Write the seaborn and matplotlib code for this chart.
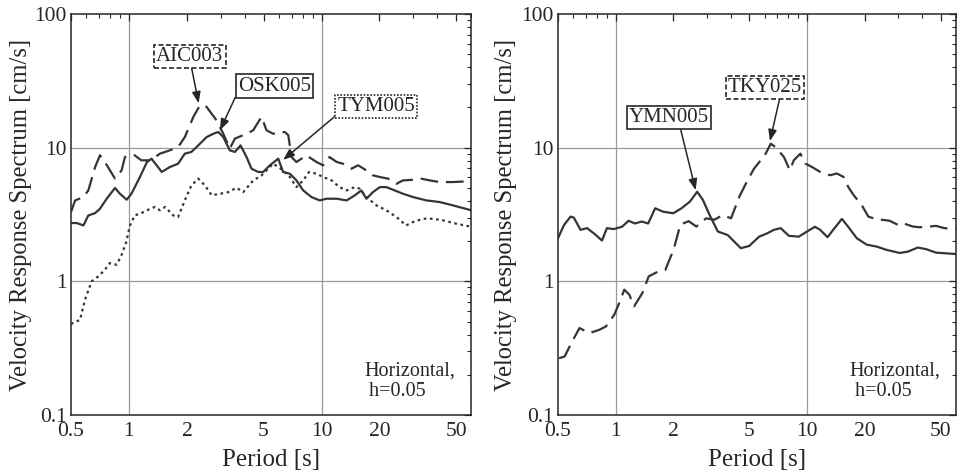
import numpy as np
import pandas as pd
import matplotlib
matplotlib.use("Agg")
import matplotlib.pyplot as plt
from matplotlib.ticker import FixedLocator, FixedFormatter, NullFormatter
import seaborn as sns

# ---- spectra: period [s] and velocity response [cm/s] ----
aic003_T = [0.50, 0.525, 0.58, 0.615, 0.667, 0.707, 0.75, 0.846, 0.916, 0.953, 1.01, 1.07,
            1.16, 1.29, 1.45, 1.63, 1.80, 1.95, 2.16, 2.34, 2.53, 2.85, 3.09, 3.34, 3.55,
            4.08, 4.42, 4.88, 5.18, 5.61, 6.45, 6.72, 6.99, 7.41, 7.87, 8.36, 8.87, 9.42,
            10.2, 11.0, 12.0, 12.9, 14.3, 15.5, 17.1, 18.5, 20.1, 22.2, 24.5, 26.5, 29.9,
            33.0, 36.5, 41.1, 48.2, 60.0]
aic003_V = [3.30, 4.03, 4.27, 4.79, 7.16, 8.77, 7.81, 5.87, 6.77, 8.51, 8.77, 8.77,
            8.04, 8.04, 9.02, 9.55, 10.1, 12.0, 17.0, 20.8, 20.2, 16.0, 12.7, 9.84, 11.7,
            12.7, 13.5, 17.0, 13.5, 12.7, 13.1, 12.4, 8.51, 7.81, 8.27, 8.77, 8.27, 7.81,
            7.38, 8.51, 7.81, 7.59, 6.96, 7.38, 6.76, 6.21, 6.03, 5.86, 5.37, 5.69, 5.75,
            5.86, 5.69, 5.53, 5.53, 5.62]

osk005_T = [0.50, 0.535, 0.58, 0.615, 0.667, 0.707, 0.766, 0.846, 0.898, 0.973, 1.03, 1.14,
            1.24, 1.31, 1.48, 1.63, 1.80, 1.95, 2.11, 2.29, 2.53, 2.74, 2.91, 3.09, 3.34,
            3.55, 3.80, 4.08, 4.33, 4.69, 4.98, 5.39, 5.96, 6.32, 6.85, 7.41, 8.03, 8.87,
            9.80, 10.6, 12.0, 13.5, 14.9, 16.1, 17.1, 18.5, 20.1, 21.7, 24.0, 26.5, 29.9,
            35.1, 41.1, 48.2, 60.0]
osk005_V = [2.73, 2.73, 2.62, 3.11, 3.24, 3.49, 4.15, 4.99, 4.52, 4.08, 4.52, 6.03,
            7.81, 8.27, 6.58, 7.16, 7.59, 9.02, 9.29, 10.4, 12.0, 12.7, 13.1, 12.0, 9.55,
            9.29, 10.4, 8.51, 6.96, 6.58, 6.58, 7.38, 8.27, 6.58, 6.38, 5.69, 4.79, 4.27,
            4.03, 4.15, 4.15, 4.03, 4.40, 4.79, 4.15, 4.65, 5.07, 5.07, 4.79, 4.52, 4.27,
            4.03, 3.92, 3.70, 3.40]

tym005_T = [0.50, 0.557, 0.591, 0.640, 0.693, 0.75, 0.796, 0.863, 0.916, 0.965, 1.01, 1.07,
            1.16, 1.29, 1.36, 1.45, 1.54, 1.70, 1.80, 1.95, 2.11, 2.29, 2.48, 2.69, 2.97,
            3.28, 3.62, 3.92, 4.42, 4.88, 5.61, 6.32, 6.85, 7.41, 8.03, 8.62, 9.42, 10.2,
            11.3, 12.4, 13.5, 14.9, 15.8, 17.1, 19.3, 21.7, 24.5, 27.5, 29.9, 33.7, 37.9,
            42.7, 50.1, 60.0]
tym005_V = [0.48, 0.515, 0.729, 1.00, 1.09, 1.22, 1.37, 1.33, 1.58, 1.94, 2.60, 3.11,
            3.24, 3.49, 3.60, 3.40, 3.60, 3.11, 3.03, 4.03, 5.22, 5.87, 5.22, 4.40, 4.52,
            4.65, 5.01, 4.65, 5.69, 6.20, 7.59, 6.76, 6.03, 5.07, 5.69, 6.58, 6.38, 6.03,
            5.69, 5.07, 4.79, 5.07, 4.93, 4.27, 3.70, 3.40, 3.03, 2.62, 2.78, 2.94, 2.94,
            2.86, 2.70, 2.56]

ymn005_T = [0.50, 0.538, 0.582, 0.605, 0.656, 0.710, 0.769, 0.849, 0.901, 0.977, 1.08, 1.17,
            1.26, 1.37, 1.48, 1.61, 1.77, 2.00, 2.21, 2.44, 2.67, 2.86, 3.10, 3.42, 3.85,
            4.17, 4.51, 4.99, 5.62, 6.21, 6.72, 7.28, 8.04, 9.05, 10.0, 11.0, 11.7, 12.8,
            13.7, 15.2, 16.4, 18.2, 20.5, 23.1, 26.0, 30.5, 33.7, 37.9, 41.9, 47.2, 60.0]
ymn005_V = [2.10, 2.64, 3.05, 3.00, 2.43, 2.50, 2.29, 2.02, 2.50, 2.46, 2.56, 2.84,
            2.71, 2.80, 2.71, 3.52, 3.32, 3.23, 3.52, 3.94, 4.68, 4.06, 3.13, 2.36, 2.22,
            1.98, 1.77, 1.84, 2.16, 2.29, 2.43, 2.50, 2.19, 2.16, 2.36, 2.56, 2.43, 2.14,
            2.43, 2.93, 2.56, 2.10, 1.88, 1.82, 1.72, 1.63, 1.67, 1.79, 1.74, 1.64, 1.60]

tky025_T = [0.507, 0.542, 0.587, 0.648, 0.731, 0.823, 0.891, 0.984, 1.045, 1.11, 1.18, 1.25,
            1.38, 1.49, 1.68, 1.82, 2.01, 2.18, 2.41, 2.64, 2.97, 3.28, 3.63, 4.01, 4.43,
            4.89, 5.29, 5.73, 5.96, 6.46, 6.85, 7.57, 8.13, 8.53, 9.23, 9.80, 10.6, 11.7,
            13.2, 14.3, 15.5, 16.4, 17.5, 19.3, 20.9, 23.1, 25.0, 27.0, 29.9, 31.7, 35.7,
            38.7, 43.6, 47.2, 52.1, 60.0]
tky025_V = [0.266, 0.274, 0.345, 0.447, 0.410, 0.434, 0.460, 0.562, 0.688, 0.866, 0.794, 0.650,
            0.818, 1.09, 1.19, 1.22, 1.73, 2.66, 2.82, 2.57, 2.96, 2.89, 3.13, 2.96, 4.30,
            5.71, 6.98, 8.05, 8.52, 10.7, 10.1, 8.52, 6.78, 8.05, 9.02, 7.60, 7.18, 6.59,
            6.22, 6.41, 6.05, 5.09, 4.42, 3.72, 3.05, 2.91, 2.88, 2.84, 2.64, 2.72, 2.57,
            2.54, 2.57, 2.60, 2.50, 2.46]

x_ticks = [0.5, 1, 2, 5, 10, 20, 50]
x_tick_labels = ["0.5", "1", "2", "5", "10", "20", "50"]
y_ticks = [0.1, 1, 10, 100]
y_tick_labels = ["0.1", "1", "10", "100"]

sns.set_style("white")
plt.rcParams["font.family"] = ["Liberation Serif", "DejaVu Serif"]

INK = "#262626"
LINE = "#353535"


def frame(name, T, V):
    return pd.DataFrame({"T": T, "V": V, "station": name})


fig = plt.figure(figsize=(9.57, 4.73), dpi=100)
ax_l = fig.add_axes([0.0742, 0.1226, 0.4183, 0.8478])
ax_r = fig.add_axes([0.5830, 0.1226, 0.4160, 0.8478])

dash_long = (8, 3.5)
dots = (1.2, 1.6)

left_data = pd.concat([frame("AIC003", aic003_T, aic003_V),
                       frame("OSK005", osk005_T, osk005_V),
                       frame("TYM005", tym005_T, tym005_V)])
right_data = pd.concat([frame("YMN005", ymn005_T, ymn005_V),
                        frame("TKY025", tky025_T, tky025_V)])

sns.lineplot(data=left_data, x="T", y="V", hue="station", style="station",
             palette={"AIC003": LINE, "OSK005": LINE, "TYM005": LINE},
             dashes={"AIC003": dash_long, "OSK005": "", "TYM005": dots},
             linewidth=1.6, sort=False, estimator=None, legend=False, ax=ax_l)
sns.lineplot(data=right_data, x="T", y="V", hue="station", style="station",
             palette={"YMN005": LINE, "TKY025": LINE},
             dashes={"YMN005": "", "TKY025": dash_long},
             linewidth=1.6, sort=False, estimator=None, legend=False, ax=ax_r)

minor_x = [0.6, 0.7, 0.8, 0.9, 3, 4, 6, 7, 8, 9, 30, 40, 60]
minor_y = [v * d for d in (0.1, 1, 10) for v in range(2, 10)]

for ax, ylab_x in ((ax_l, -0.097), (ax_r, -0.104)):
    ax.set_xscale("log")
    ax.set_yscale("log")
    ax.set_xlim(0.5, 60)
    ax.set_ylim(0.1, 100)
    ax.xaxis.set_major_locator(FixedLocator(x_ticks))
    ax.xaxis.set_major_formatter(FixedFormatter(x_tick_labels))
    ax.xaxis.set_minor_locator(FixedLocator(minor_x))
    ax.xaxis.set_minor_formatter(NullFormatter())
    ax.yaxis.set_major_locator(FixedLocator(y_ticks))
    ax.yaxis.set_major_formatter(FixedFormatter(y_tick_labels))
    ax.yaxis.set_minor_locator(FixedLocator(minor_y))
    ax.yaxis.set_minor_formatter(NullFormatter())
    ax.tick_params(which="both", direction="in", top=True, right=True,
                   colors=INK, labelsize=15.5)
    ax.tick_params(axis="x", which="major", pad=5)
    ax.tick_params(axis="y", which="major", pad=3)
    ax.tick_params(which="major", length=5, width=0.9)
    ax.tick_params(which="minor", length=3, width=0.8)
    for v in (1, 10):
        ax.axvline(v, color="#9a9a9a", lw=0.9, zorder=0)
        ax.axhline(v, color="#9a9a9a", lw=0.9, zorder=0)
    for s in ax.spines.values():
        s.set_color(INK)
        s.set_linewidth(1.1)
    ax.set_xlabel("Period [s]", fontsize=18, color=INK, labelpad=6)
    ax.set_ylabel("Velocity Response Spectrum [cm/s]", fontsize=17.7, color=INK)
    ax.yaxis.set_label_coords(ylab_x, 0.5)
    ax.text(0.733, 0.085, "Horizontal,\n h=0.05", transform=ax.transAxes,
            fontsize=14.5, color=INK, ha="left", va="center", linespacing=1.1)


def tag(ax, label, tip, box, ls, rel):
    ax.annotate(label, xy=tip, xytext=box, textcoords="data",
                ha="center", va="center", fontsize=15, color=INK,
                bbox=dict(boxstyle="square,pad=0.1", fc="white", ec=INK,
                          lw=1.2, ls=ls),
                arrowprops=dict(arrowstyle="-|>,head_length=0.45,head_width=0.17",
                                color=INK, lw=1.1, relpos=rel,
                                shrinkA=0, shrinkB=0),
                zorder=5)


tag(ax_l, "AIC003", (2.30, 21.5), (2.07, 48.4), (0, (3, 1.5)), (0.52, 0.0))
tag(ax_l, "OSK005", (2.97, 13.5), (5.69, 28.9), "-", (0.0, 0.2))
tag(ax_l, "TYM005", (6.32, 8.1), (19.2, 20.2), (0, (1, 1)), (0.0, 0.1))
tag(ax_r, "YMN005", (2.62, 4.8), (1.90, 16.7), "-", (0.64, 0.0))
tag(ax_r, "TKY025", (6.40, 11.2), (6.04, 28.1), (0, (3, 1.5)), (0.7, 0.0))

fig.savefig("out.png", dpi=100)
